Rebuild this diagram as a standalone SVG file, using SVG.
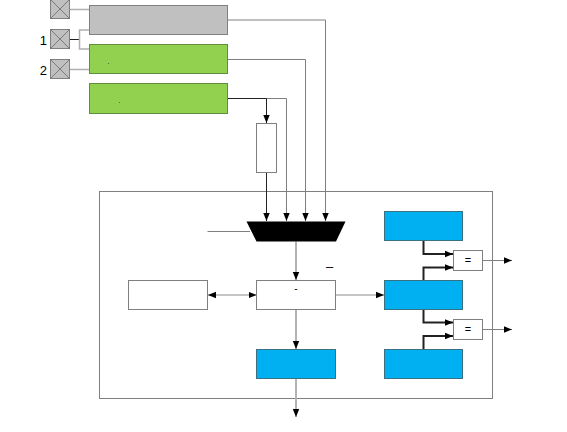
<svg xmlns="http://www.w3.org/2000/svg" width="567" height="432" viewBox="0 0 567 432">
<style>
.pin{fill:#c0c0c0;stroke:#7f7f7f;stroke-width:1}
.pinx{stroke:#6a6a6a;stroke-width:0.8;fill:none}
.gray{fill:#c0c0c0;stroke:#7f7f7f;stroke-width:1}
.green{fill:#92d050;stroke:#5f8f3c;stroke-width:1}
.blue{fill:#00b0f0;stroke:#3b6f82;stroke-width:1}
.white{fill:#fff;stroke:#7f7f7f;stroke-width:1}
.ln{fill:none;stroke:#7f7f7f;stroke-width:1}
.lg{fill:none;stroke:#b0b0b0;stroke-width:1.5}
.dk{fill:none;stroke:#222;stroke-width:1}
.thk{fill:none;stroke:#222;stroke-width:2}
.lgt{fill:none;stroke:#b4b4b4;stroke-width:2}
text{font-family:"Liberation Sans",Arial,sans-serif;fill:#000}
</style>
<defs>
<marker id="ah" viewBox="0 0 10 10" refX="10" refY="5" markerWidth="8" markerHeight="8" markerUnits="userSpaceOnUse" orient="auto"><path d="M0,1 L10,5 L0,9 Z" fill="#000"/></marker>
<marker id="ahs" viewBox="0 0 10 10" refX="10" refY="5" markerWidth="8" markerHeight="8" markerUnits="userSpaceOnUse" orient="auto-start-reverse"><path d="M0,1 L10,5 L0,9 Z" fill="#000"/></marker>
</defs>
<rect x="99.5" y="191.5" width="393" height="207" fill="none" stroke="#7f7f7f" stroke-width="1"/>
<g id="connectors">
<line x1="70" y1="9.5" x2="89.5" y2="9.5" class="lg"/>
<line x1="70" y1="39.5" x2="79.5" y2="39.5" class="dk"/>
<polyline points="89.5,30 79.5,30 79.5,49 89.5,49" class="lg"/>
<line x1="70" y1="69.5" x2="89.5" y2="69.5" class="lg"/>
<polyline points="227.5,20 325.5,20 325.5,221" class="ln" marker-end="url(#ah)"/>
<polyline points="227.5,59.5 305.5,59.5 305.5,221" class="ln" marker-end="url(#ah)"/>
<polyline points="227.5,98.5 286.5,98.5 286.5,221" class="ln" marker-end="url(#ah)"/>
<line x1="227.5" y1="98.5" x2="266.5" y2="98.5" class="dk"/>
<polyline points="266.5,98.5 266.5,123" class="dk" marker-end="url(#ah)"/>
<polyline points="266.5,172.5 266.5,221" class="dk" marker-end="url(#ah)"/>
<line x1="207.5" y1="231.5" x2="250" y2="231.5" class="ln"/>
<line x1="296" y1="241.5" x2="296" y2="280" class="lgt" marker-end="url(#ah)"/>
<line x1="208" y1="295" x2="256.5" y2="295" class="lg" marker-start="url(#ahs)" marker-end="url(#ah)"/>
<line x1="335.5" y1="295" x2="384" y2="295" class="lg" marker-end="url(#ah)"/>
<line x1="296" y1="309.5" x2="296" y2="349" class="lgt" marker-end="url(#ah)"/>
<line x1="296" y1="378.5" x2="296" y2="417" class="lgt" marker-end="url(#ah)"/>
<polyline points="423.5,241 423.5,254 453,254" class="thk" marker-end="url(#ah)"/>
<polyline points="423.5,280.5 423.5,267.5 453,267.5" class="thk" marker-end="url(#ah)"/>
<polyline points="423.5,309.5 423.5,322.5 453,322.5" class="thk" marker-end="url(#ah)"/>
<polyline points="423.5,349.5 423.5,336 453,336" class="thk" marker-end="url(#ah)"/>
<line x1="482.5" y1="260.5" x2="512" y2="260.5" class="ln" marker-end="url(#ah)"/>
<line x1="482.5" y1="329.5" x2="512" y2="329.5" class="ln" marker-end="url(#ah)"/>
</g>
<g id="pin0"><rect x="50.5" y="-0.5" width="19" height="19" class="pin"/><path d="M50.5,-0.5 L69.5,18.5 M69.5,-0.5 L50.5,18.5" class="pinx"/></g>
<g id="pin1"><rect x="50.5" y="29.5" width="19" height="19" class="pin"/><path d="M50.5,29.5 L69.5,48.5 M69.5,29.5 L50.5,48.5" class="pinx"/><text x="47" y="45" font-size="13" text-anchor="end">1</text></g>
<g id="pin2"><rect x="50.5" y="59.5" width="19" height="19" class="pin"/><path d="M50.5,59.5 L69.5,78.5 M69.5,59.5 L50.5,78.5" class="pinx"/><text x="47" y="75" font-size="13" text-anchor="end">2</text></g>
<g id="grayblock"><rect x="89.5" y="5.5" width="138" height="29" class="gray"/></g>
<g id="green1"><rect x="89.5" y="44.5" width="138" height="29" class="green"/><text x="108.5" y="64" font-size="7" text-anchor="middle">.</text></g>
<g id="green2"><rect x="89.5" y="83.5" width="138" height="30" class="green"/><text x="119.5" y="103" font-size="7" text-anchor="middle">.</text></g>
<g id="smallrect"><rect x="256.5" y="123.5" width="20" height="49" class="white"/></g>
<g id="mux"><polygon points="246.5,221.5 345.5,221.5 336,241.5 256.5,241.5" fill="#000"/></g>
<g id="dash"><text x="329.5" y="271" font-size="13" text-anchor="middle">–</text></g>
<g id="leftbox"><rect x="128.5" y="280.5" width="79" height="29" class="white"/></g>
<g id="midbox"><rect x="256.5" y="280.5" width="79" height="29" class="white"/><text x="296" y="292" font-size="10" text-anchor="middle">-</text></g>
<g id="midblue"><rect x="256.5" y="349.5" width="79" height="29" class="blue"/></g>
<g id="blue1"><rect x="384.5" y="211.5" width="78" height="29" class="blue"/></g>
<g id="blue2"><rect x="384.5" y="280.5" width="78" height="29" class="blue"/></g>
<g id="blue3"><rect x="384.5" y="349.5" width="78" height="29" class="blue"/></g>
<g id="eq1"><rect x="453.5" y="250.5" width="29" height="20" class="white"/><text x="468" y="264" font-size="11" text-anchor="middle">=</text></g>
<g id="eq2"><rect x="453.5" y="319.5" width="29" height="20" class="white"/><text x="468" y="333" font-size="11" text-anchor="middle">=</text></g>
</svg>
